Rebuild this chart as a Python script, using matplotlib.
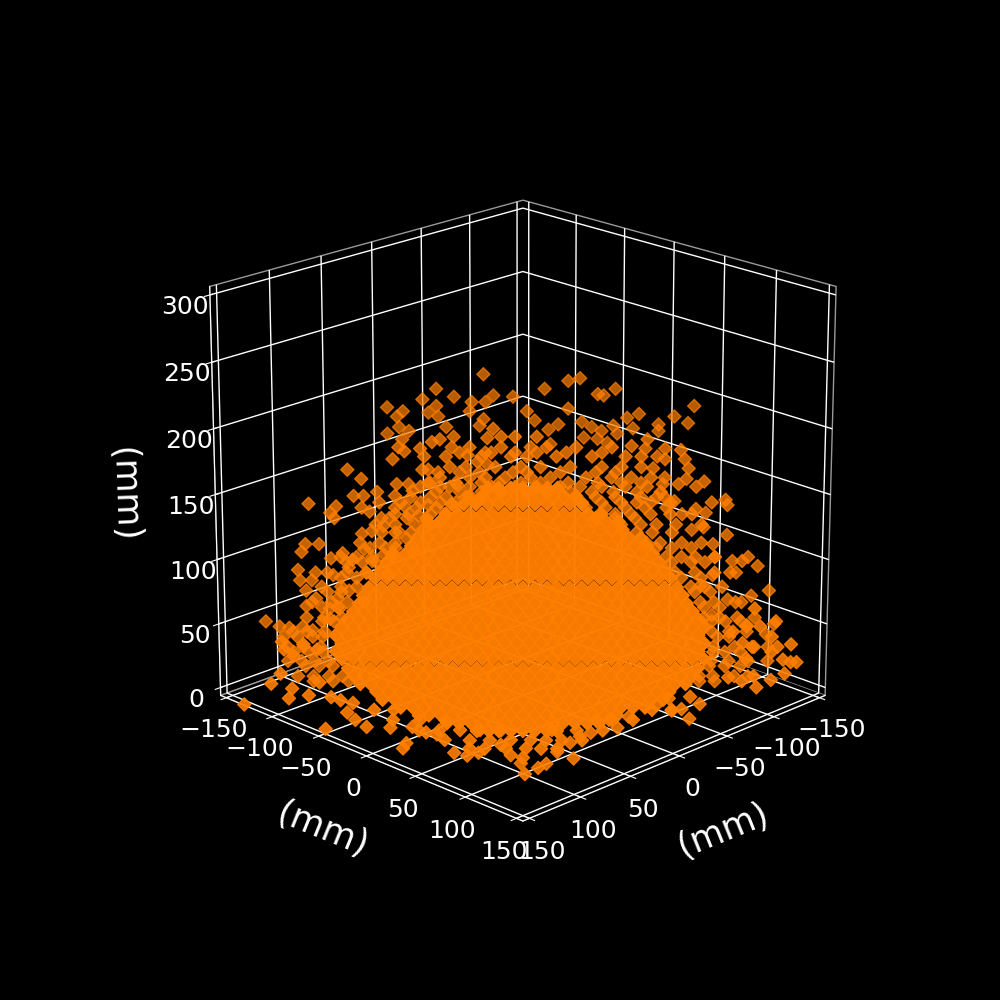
import matplotlib
matplotlib.use("Agg")
import matplotlib.pyplot as plt
from matplotlib.colors import to_rgb

# Upper edge of the cloud, far side (mm)
upper_left_far_x = [5, 29, 20, 0, 36, 54, 29, 11, 4, 46,
                    49, 33, 28, 12, 5, 48, 24, 7, 54, 43]
upper_left_far_y = [-35, -59, -50, -30, -66, -84, -59, -41, -34, -76,
                    -79, -63, -58, -42, -35, -78, -54, -37, -84, -73]
upper_left_far_z = [234, 223, 217, 218, 215, 209, 210, 213, 213, 206,
                    202, 205, 202, 206, 200, 194, 194, 195, 189, 191]

upper_left_x = [15, 61, 46, 42, 35, 18, 63, 52, 36, 60,
                50, 28, 19, 66, 89, 51, 43, 48, 23, 18,
                82, 64, 58, 48, 42, 33, 74, 65, 56, 86,
                81, 73, 109, 95, 98, 96, 82, 78, 60, 48,
                68, 53, 42, 71, 63, 82, 77, 59, 104, 111,
                113, 92, 81, 71, 66, 56, 98, 87, 77, 115,
                106, 97, 114, 108, 89, 80, 69, 111, 106, 95,
                111, 89, 81, 99, 132, 125, 120, 113, 108, 123,
                99, 94]
upper_left_y = [-15, -61, -46, -42, -35, -18, -63, -52, -36, -60,
                -50, -28, -19, -66, -89, -51, -43, -48, -23, -18,
                -82, -64, -58, -48, -42, -33, -74, -65, -56, -86,
                -81, -73, -109, -95, -98, -96, -82, -78, -60, -48,
                -68, -53, -42, -71, -63, -82, -77, -59, -104, -111,
                -113, -92, -81, -71, -66, -56, -98, -87, -77, -115,
                -106, -97, -114, -108, -89, -80, -69, -111, -106, -95,
                -111, -89, -81, -99, -132, -125, -120, -113, -108, -123,
                -99, -94]
upper_left_z = [200, 192, 190, 192, 194, 193, 186, 185, 186, 183,
                179, 180, 182, 177, 169, 169, 167, 169, 175, 173,
                162, 158, 158, 159, 156, 157, 152, 149, 153, 149,
                149, 144, 143, 141, 136, 132, 140, 137, 141, 142,
                132, 134, 129, 126, 121, 120, 122, 116, 112, 112,
                106, 105, 108, 104, 104, 106, 101, 100, 99, 92,
                90, 88, 84, 84, 94, 90, 89, 76, 70, 70,
                64, 76, 67, 62, 52, 48, 47, 48, 45, 40,
                54, 62]

# Lower-left and front rim (mm)
lower_left_x = [124, 123, 118, 113, 106, 125, 130, 105, 130, 144,
                130, 165, 121, 120, 117, 132, 137, 163, 140, 140,
                148, 129, 117, 117, 128, 125, 116, 114, 95, 103,
                119, 100]
lower_left_y = [-124, -123, -118, -113, -106, -125, -130, -105, -107, -95,
                -89, -120, -75, -66, -56, -46, -32, -35, -17, 24,
                29, -4, 6, 20, 60, 70, 72, 28, 73, 91,
                121, 100]
lower_left_z = [36, 30, 25, 34, 30, 11, 3, 4, 6, 6,
                6, 0, 6, 6, 6, 6, 6, 6, 6, 6,
                6, 6, 6, 6, 6, 6, 6, 6, 6, 6,
                6, 6]

lower_right_x = [105, 96, 76, 76, 108, 58, 35, 45, 15, -5,
                 9, -35, -35, -42, -33, -58, -63, -50, -113, -110,
                 -128, -119, -135, -106, -134, -138, -141, -138, -131, -128,
                 -118, -113, -115, -122, -130, -128, -119, -108, -115]
lower_right_y = [120, 119, 126, 110, 106, 105, 103, 102, 110, 102,
                 96, 101, 116, 119, 135, 122, 108, 99, 113, 130,
                 128, 119, 135, 106, 134, 138, 141, 138, 131, 128,
                 118, 113, 115, 122, 130, 128, 119, 108, 115]
lower_right_z = [6, 6, 6, 6, 6, 6, 6, 6, 6, 6,
                 6, 6, 6, 6, 6, 6, 6, 6, 5, 6,
                 6, 9, 11, 8, 22, 20, 20, 34, 32, 28,
                 32, 35, 48, 48, 52, 40, 62, 44, 23]

# Extra points along the front of the cloud (mm)
front_x = [115, 105, -26, -36,
           118, 105, 92, 16, 8, -3,
           118, 108, 97, 87, 77, 51, 39, 26,
           117, 105, 95, 84, 74, 67, 59, 49,
           115, 108, 97, 87, 80, 72]
front_y = [-36, -26, 105, 115,
           -13, 1, 14, 90, 98, 108,
           14, 24, 34, 44, 55, 80, 93, 106,
           39, 52, 62, 72, 82, 90, 98, 108,
           62, 70, 80, 90, 98, 106]
front_z = [6, 6, 6, 6,
           6, 6, 6, 6, 6, 6,
           6, 6, 6, 6, 6, 6, 6, 6,
           6, 6, 6, 6, 6, 6, 6, 6,
           6, 6, 6, 6, 6, 6]

upper_right_far_x = [-10, -38, -44, -26, -62, -53, -56, -102, -38, -92,
                     -74, -68, -99, -84, -84, -71, -29, -33, -28, -17,
                     -21, -45, -50, -55, -61, -46, -53, -58, -63]
upper_right_far_y = [-20, 8, 14, -4, 32, 23, 26, 72, 8, 62,
                     44, 38, 69, 54, 54, 41, -1, 3, -2, -13,
                     -9, 15, 20, 25, 31, 16, 23, 28, 33]
upper_right_far_z = [217, 229, 231, 223, 223, 219, 218, 210, 208, 202,
                     204, 201, 197, 196, 191, 193, 181, 196, 192, 206,
                     199, 198, 194, 191, 195, 186, 185, 182, 189]

upper_right_x = [-55, -63, -62, -72, -80, -82, -72, -68, -66, -84,
                 -72, -83, -79, -92, -88, -71, -103, -96, -88, -93,
                 -104, -72, -77, -81, -86, -92, -104, -97, -98, -107,
                 -115, -112, -120, -109, -97, -126, -117, -129, -112, -105,
                 -125, -115, -91, -97]
upper_right_y = [55, 63, 62, 72, 80, 82, 72, 68, 66, 84,
                 72, 83, 79, 92, 88, 71, 103, 96, 88, 93,
                 104, 72, 77, 81, 86, 92, 104, 97, 98, 107,
                 115, 112, 120, 109, 97, 126, 117, 129, 112, 105,
                 125, 115, 91, 97]
upper_right_z = [187, 192, 185, 185, 184, 177, 177, 179, 170, 170,
                 163, 162, 158, 160, 156, 158, 146, 144, 139, 136,
                 142, 148, 145, 135, 123, 125, 119, 112, 102, 99,
                 102, 99, 95, 90, 88, 76, 72, 50, 67, 69,
                 42, 49, 80, 57]

# Thinner band between the rim and the solid centre (mm)
band_x = [27, 11, -4, -12, -27, -45,
          39, 21, 6, -2, -17, -35, -52, -60,
          37, 29, 14, 1, -9, -24, -40, -50, -60,
          42, 27, 19, 9, -4, -14, -32, -45, -55, -65,
          52, 37, 27, 16, 4, -7, -19, -29, -40, -52, -63,
          57, 47, 39, 29, 21, -27, -37, -47, -60, -68,
          65, 54, 44, 34, -32, -42, -52, -62, -73,
          72, 59, 49, -37, -47, -57,
          72, 65, 57, -58, -66, -76,
          78, 70, 65, -68, -76, -86,
          90, 82, 75, -76, -86, -93,
          93, 85, -81, -91,
          100, 93, -88, -96,
          103, 95, -93, -101,
          103, 97, -97, -104, -112,
          116, 108, 103, -100, -106,
          118, 110, 103, -98, -104, -112,
          112, 105, 98, -96, -104, -112,
          108, 98, 90, -91, -99]
band_y = [-27, -11, 4, 12, 27, 45,
          -39, -21, -6, 2, 17, 35, 52, 60,
          -37, -29, -14, -1, 9, 24, 40, 50, 60,
          -42, -27, -19, -9, 4, 14, 32, 45, 55, 65,
          -52, -37, -27, -16, -4, 7, 19, 29, 40, 52, 63,
          -57, -47, -39, -29, -21, 27, 37, 47, 60, 68,
          -65, -54, -44, -34, 32, 42, 52, 62, 73,
          -72, -59, -49, 37, 47, 57,
          -72, -65, -57, 58, 66, 76,
          -78, -70, -65, 68, 76, 86,
          -90, -82, -75, 76, 86, 93,
          -93, -85, 81, 91,
          -100, -93, 88, 96,
          -103, -95, 93, 101,
          -103, -97, 97, 104, 112,
          -116, -108, -103, 100, 106,
          -118, -110, -103, 98, 104, 112,
          -112, -105, -98, 96, 104, 112,
          -108, -98, -90, 91, 99]
band_z = [186, 186, 186, 186, 186, 186,
          179, 179, 179, 179, 179, 179, 179, 179,
          171, 171, 171, 171, 171, 171, 171, 171, 171,
          163, 163, 163, 163, 163, 163, 163, 163, 163, 163,
          156, 156, 156, 156, 156, 156, 156, 156, 156, 156, 156,
          148, 148, 148, 148, 148, 148, 148, 148, 148, 148,
          140, 140, 140, 140, 140, 140, 140, 140, 140,
          132, 132, 132, 132, 132, 132,
          121, 121, 121, 121, 121, 121,
          109, 109, 109, 109, 109, 109,
          98, 98, 98, 98, 98, 98,
          86, 86, 86, 86,
          75, 75, 75, 75,
          63, 63, 63, 63,
          52, 52, 52, 52, 52,
          40, 40, 40, 40, 40,
          28, 28, 28, 28, 28, 28,
          17, 17, 17, 17, 17, 17,
          5, 5, 5, 5, 5]

band2_x = [11, 4, -7,
           32, 16, 4, -7, -22, -40,
           32, 22, 5, -2, -19, -37, -47,
           47, 34, 21, 12, 1, -9, -23, -38, -50, -60,
           44, 32, 21, 11, -2, -12, -24, -35, -46, -58, -70,
           62, 52, 42, 34, 24, -30, -40, -50, -58, -65, -75,
           65, 58, 47, 39, -40, -47, -55, -65, -75, -86,
           75, 65, 55, 47, -50, -60, -68, -78, -91,
           83, 73, 65, -63, -70, -81, -91,
           93, 85, 77, 67, -73, -81, -88, -98,
           100, 90, 80, -78, -88, -98, -106,
           103, 93, 85, -86, -93, -102,
           108, 98, 90, -91, -98, -109,
           111, 102, 93, -93, -101, -110, -119,
           118, 111, 102, -97, -106, -115,
           121, 113, 104, -98, -109, -119, -126,
           121, 114, 107, 100, -97, -106, -116, -126,
           116, 108, 100, 93, -91, -98, -109, -116]
band2_y = [-11, -4, 7,
           -32, -16, -4, 7, 22, 40,
           -32, -22, -5, 2, 19, 37, 47,
           -47, -34, -21, -12, -1, 9, 23, 38, 50, 60,
           -44, -32, -21, -11, 2, 12, 24, 35, 46, 58, 70,
           -62, -52, -42, -34, -24, 30, 40, 50, 58, 65, 75,
           -65, -58, -47, -39, 40, 47, 55, 65, 75, 86,
           -75, -65, -55, -47, 50, 60, 68, 78, 91,
           -83, -73, -65, 63, 70, 81, 91,
           -93, -85, -77, -67, 73, 81, 88, 98,
           -100, -90, -80, 78, 88, 98, 106,
           -103, -93, -85, 86, 93, 102,
           -108, -98, -90, 91, 98, 109,
           -111, -102, -93, 93, 101, 110, 119,
           -118, -111, -102, 97, 106, 115,
           -121, -113, -104, 98, 109, 119, 126,
           -121, -114, -107, -100, 97, 106, 116, 126,
           -116, -108, -100, -93, 91, 98, 109, 116]
band2_z = [194, 194, 194,
           182, 182, 182, 182, 182, 182,
           167, 167, 167, 167, 167, 167, 167,
           159, 159, 159, 159, 159, 159, 159, 159, 159, 159,
           152, 152, 152, 152, 152, 152, 152, 152, 152, 152, 152,
           144, 144, 144, 144, 144, 144, 144, 144, 144, 144, 144,
           135, 135, 135, 135, 135, 135, 135, 135, 135, 135,
           127, 127, 127, 127, 127, 127, 127, 127, 127,
           113, 113, 113, 113, 113, 113, 113,
           102, 102, 102, 102, 102, 102, 102, 102,
           90, 90, 90, 90, 90, 90, 90,
           79, 79, 79, 79, 79, 79,
           67, 67, 67, 67, 67, 67,
           55, 55, 55, 55, 55, 55, 55,
           44, 44, 44, 44, 44, 44,
           32, 32, 32, 32, 32, 32, 32,
           21, 21, 21, 21, 21, 21, 21, 21,
           9, 9, 9, 9, 9, 9, 9, 9]

# Dense centre, one row per height level (mm)
centre_z_levels = [191, 185, 179, 172, 166, 160, 154, 148, 142, 136, 130,
                   124, 117, 111, 105, 99, 93, 87, 81, 75, 69, 63,
                   56, 50, 44, 38, 32, 26, 20, 14, 8]
centre_x_rows = [
    [87, 82, 76, 70, 64, 58, 53],
    [96, 90, 85, 79, 73, 67, 61, 55, 50, 44],
    [105, 99, 93, 87, 82, 76, 70, 64, 58, 53, 47, 41],
    [108, 102, 96, 90, 85, 79, 73, 67, 61, 55, 50, 44, 38, 32],
    [117, 111, 105, 99, 93, 87, 82, 76, 70, 64, 58, 53, 47, 41, 35, 29, 23],
    [119, 114, 108, 102, 96, 90, 85, 79, 73, 67, 61, 55, 50, 44, 38, 32, 26, 21],
    [122, 117, 111, 105, 99, 93, 87, 82, 76, 70, 64, 58, 53, 47, 41, 35, 29, 23, 18, 12],
    [125, 119, 114, 108, 102, 96, 90, 85, 79, 73, 67, 61, 55, 50, 44, 38, 32, 26, 21, 15, 9],
    [134, 128, 122, 117, 111, 105, 99, 93, 87, 82, 76, 70, 64, 58, 53, 47, 41, 35, 29, 23, 18, 12, 6],
    [137, 131, 125, 119, 114, 108, 102, 96, 90, 85, 79, 73, 67, 61, 55, 50, 44, 38, 32, 26, 21, 15, 9, 3],
    [140, 134, 128, 122, 117, 111, 105, 99, 93, 87, 82, 76, 70, 64, 58, 53, 47, 41, 35, 29, 23, 18, 12, 6, 0],
    [143, 137, 131, 125, 119, 114, 108, 102, 96, 90, 85, 79, 73, 67, 61, 55, 50, 44, 38, 32, 26, 21, 15, 9, 3, -3],
    [146, 140, 134, 128, 122, 117, 111, 105, 99, 93, 87, 82, 76, 70, 64, 58, 53, 47, 41, 35, 29, 23, 18, 12, 6, 0, -6],
    [149, 143, 137, 131, 125, 119, 114, 108, 102, 96, 90, 85, 79, 73, 67, 61, 55, 50, 44, 38, 32, 26, 21, 15, 9, 3, -3, -9],
    [151, 146, 140, 134, 128, 122, 117, 111, 105, 99, 93, 87, 82, 76, 70, 64, 58, 53, 47, 41, 35, 29, 23, 18, 12, 6, 0, -6, -11],
    [154, 149, 143, 137, 131, 125, 119, 114, 108, 102, 96, 90, 85, 79, 73, 67, 61, 55, 50, 44, 38, 32, 26, 21, 15, 9, 3, -3, -9, -14],
    [157, 151, 146, 140, 134, 128, 122, 117, 111, 105, 99, 93, 87, 82, 76, 70, 64, 58, 53, 47, 41, 35, 29, 23, 18, 12, 6, 0, -6, -11, -17],
    [160, 154, 149, 143, 137, 131, 125, 119, 114, 108, 102, 96, 90, 85, 79, 73, 67, 61, 55, 50, 44, 38, 32, 26, 21, 15, 9, 3, -3, -9, -14, -20],
    [163, 157, 151, 146, 140, 134, 128, 122, 117, 111, 105, 99, 93, 87, 82, 76, 70, 64, 58, 53, 47, 41, 35, 29, 23, 18, 12, 6, 0, -6, -11, -17],
    [160, 154, 149, 143, 137, 131, 125, 119, 114, 108, 102, 96, 90, 85, 79, 73, 67, 61, 55, 50, 44, 38, 32, 26, 21, 15, 9, 3, -3, -9, -14, -20],
    [163, 157, 151, 146, 140, 134, 128, 122, 117, 111, 105, 99, 93, 87, 82, 76, 70, 64, 58, 53, 47, 41, 35, 29, 23, 18, 12, 6, 0, -6, -11, -17],
    [160, 154, 149, 143, 137, 131, 125, 119, 114, 108, 102, 96, 90, 85, 79, 73, 67, 61, 55, 50, 44, 38, 32, 26, 21, 15, 9, 3, -3, -9, -14, -20],
    [157, 151, 146, 140, 134, 128, 122, 117, 111, 105, 99, 93, 87, 82, 76, 70, 64, 58, 53, 47, 41, 35, 29, 23, 18, 12, 6, 0, -6, -11, -17],
    [154, 149, 143, 137, 131, 125, 119, 114, 108, 102, 96, 90, 85, 79, 73, 67, 61, 55, 50, 44, 38, 32, 26, 21, 15, 9, 3, -3, -9, -14],
    [151, 146, 140, 134, 128, 122, 117, 111, 105, 99, 93, 87, 82, 76, 70, 64, 58, 53, 47, 41, 35, 29, 23, 18, 12, 6, 0, -6, -11],
    [143, 137, 131, 125, 119, 114, 108, 102, 96, 90, 85, 79, 73, 67, 61, 55, 50, 44, 38, 32, 26, 21, 15, 9, 3, -3],
    [140, 134, 128, 122, 117, 111, 105, 99, 93, 87, 82, 76, 70, 64, 58, 53, 47, 41, 35, 29, 23, 18, 12, 6, 0],
    [131, 125, 119, 114, 108, 102, 96, 90, 85, 79, 73, 67, 61, 55, 50, 44, 38, 32, 26, 21, 15, 9],
    [122, 117, 111, 105, 99, 93, 87, 82, 76, 70, 64, 58, 53, 47, 41, 35, 29, 23],
    [108, 102, 96, 90, 85, 79, 73, 67, 61, 55, 50, 44, 38, 32],
    [93, 87, 82, 76, 70, 64, 58, 53],
]
centre_y_rows = [
    [53, 58, 64, 70, 76, 82, 87],
    [44, 50, 55, 61, 67, 73, 79, 85, 90, 96],
    [35, 41, 47, 53, 58, 64, 70, 76, 82, 87, 93, 99],
    [32, 38, 44, 50, 55, 61, 67, 73, 79, 85, 90, 96, 102, 108],
    [23, 29, 35, 41, 47, 53, 58, 64, 70, 76, 82, 87, 93, 99, 105, 111, 117],
    [21, 26, 32, 38, 44, 50, 55, 61, 67, 73, 79, 85, 90, 96, 102, 108, 114, 119],
    [18, 23, 29, 35, 41, 47, 53, 58, 64, 70, 76, 82, 87, 93, 99, 105, 111, 117, 122, 128],
    [15, 21, 26, 32, 38, 44, 50, 55, 61, 67, 73, 79, 85, 90, 96, 102, 108, 114, 119, 125, 131],
    [6, 12, 18, 23, 29, 35, 41, 47, 53, 58, 64, 70, 76, 82, 87, 93, 99, 105, 111, 117, 122, 128, 134],
    [3, 9, 15, 21, 26, 32, 38, 44, 50, 55, 61, 67, 73, 79, 85, 90, 96, 102, 108, 114, 119, 125, 131, 137],
    [0, 6, 12, 18, 23, 29, 35, 41, 47, 53, 58, 64, 70, 76, 82, 87, 93, 99, 105, 111, 117, 122, 128, 134, 140],
    [-3, 3, 9, 15, 21, 26, 32, 38, 44, 50, 55, 61, 67, 73, 79, 85, 90, 96, 102, 108, 114, 119, 125, 131, 137, 143],
    [-6, 0, 6, 12, 18, 23, 29, 35, 41, 47, 53, 58, 64, 70, 76, 82, 87, 93, 99, 105, 111, 117, 122, 128, 134, 140, 146],
    [-9, -3, 3, 9, 15, 21, 26, 32, 38, 44, 50, 55, 61, 67, 73, 79, 85, 90, 96, 102, 108, 114, 119, 125, 131, 137, 143, 149],
    [-11, -6, 0, 6, 12, 18, 23, 29, 35, 41, 47, 53, 58, 64, 70, 76, 82, 87, 93, 99, 105, 111, 117, 122, 128, 134, 140, 146, 151],
    [-14, -9, -3, 3, 9, 15, 21, 26, 32, 38, 44, 50, 55, 61, 67, 73, 79, 85, 90, 96, 102, 108, 114, 119, 125, 131, 137, 143, 149, 154],
    [-17, -11, -6, 0, 6, 12, 18, 23, 29, 35, 41, 47, 53, 58, 64, 70, 76, 82, 87, 93, 99, 105, 111, 117, 122, 128, 134, 140, 146, 151, 157],
    [-20, -14, -9, -3, 3, 9, 15, 21, 26, 32, 38, 44, 50, 55, 61, 67, 73, 79, 85, 90, 96, 102, 108, 114, 119, 125, 131, 137, 143, 149, 154, 160],
    [-23, -17, -11, -6, 0, 6, 12, 18, 23, 29, 35, 41, 47, 53, 58, 64, 70, 76, 82, 87, 93, 99, 105, 111, 117, 122, 128, 134, 140, 146, 151, 157],
    [-20, -14, -9, -3, 3, 9, 15, 21, 26, 32, 38, 44, 50, 55, 61, 67, 73, 79, 85, 90, 96, 102, 108, 114, 119, 125, 131, 137, 143, 149, 154, 160],
    [-23, -17, -11, -6, 0, 6, 12, 18, 23, 29, 35, 41, 47, 53, 58, 64, 70, 76, 82, 87, 93, 99, 105, 111, 117, 122, 128, 134, 140, 146, 151, 157],
    [-20, -14, -9, -3, 3, 9, 15, 21, 26, 32, 38, 44, 50, 55, 61, 67, 73, 79, 85, 90, 96, 102, 108, 114, 119, 125, 131, 137, 143, 149, 154, 160],
    [-17, -11, -6, 0, 6, 12, 18, 23, 29, 35, 41, 47, 53, 58, 64, 70, 76, 82, 87, 93, 99, 105, 111, 117, 122, 128, 134, 140, 146, 151, 157],
    [-14, -9, -3, 3, 9, 15, 21, 26, 32, 38, 44, 50, 55, 61, 67, 73, 79, 85, 90, 96, 102, 108, 114, 119, 125, 131, 137, 143, 149, 154],
    [-11, -6, 0, 6, 12, 18, 23, 29, 35, 41, 47, 53, 58, 64, 70, 76, 82, 87, 93, 99, 105, 111, 117, 122, 128, 134, 140, 146, 151],
    [-3, 3, 9, 15, 21, 26, 32, 38, 44, 50, 55, 61, 67, 73, 79, 85, 90, 96, 102, 108, 114, 119, 125, 131, 137, 143],
    [0, 6, 12, 18, 23, 29, 35, 41, 47, 53, 58, 64, 70, 76, 82, 87, 93, 99, 105, 111, 117, 122, 128, 134, 140],
    [9, 15, 21, 26, 32, 38, 44, 50, 55, 61, 67, 73, 79, 85, 90, 96, 102, 108, 114, 119, 125, 131],
    [18, 23, 29, 35, 41, 47, 53, 58, 64, 70, 76, 82, 87, 93, 99, 105, 111, 117],
    [32, 38, 44, 50, 55, 61, 67, 73, 79, 85, 90, 96, 102, 108],
    [47, 53, 58, 64, 70, 76, 82, 87],
]

tick_mm = [-150, -100, -50, 0, 50, 100, 150]
z_tick_mm = [0, 50, 100, 150, 200, 250, 300]
point_rgb = to_rgb("#ff7f00")

xs, ys, zs, colors = [], [], [], []


def add_group(gx, gy, gz, opacity):
    n = min(len(gx), len(gy), len(gz))
    xs.extend(gx[:n])
    ys.extend(gy[:n])
    zs.extend(gz[:n])
    colors.extend([(*point_rgb, opacity)] * n)


add_group(upper_left_far_x, upper_left_far_y, upper_left_far_z, 0.72)
add_group(upper_left_x, upper_left_y, upper_left_z, 0.78)
add_group(lower_left_x, lower_left_y, lower_left_z, 0.9)
add_group(lower_right_x, lower_right_y, lower_right_z, 0.88)
add_group(front_x, front_y, front_z, 0.92)
add_group(upper_right_far_x, upper_right_far_y, upper_right_far_z, 0.72)
add_group(upper_right_x, upper_right_y, upper_right_z, 0.78)
add_group(band_x, band_y, band_z, 0.8)
add_group(band2_x, band2_y, band2_z, 0.8)
for row_x, row_y, level in zip(centre_x_rows, centre_y_rows, centre_z_levels):
    add_group(row_x, row_y, [level] * len(row_x), 0.97)

plt.style.use("dark_background")
fig = plt.figure(figsize=(10, 10), dpi=100)
ax = fig.add_subplot(projection="3d")
ax.scatter(xs, ys, zs, marker="D", s=45, c=colors, depthshade=False)
ax.view_init(elev=20, azim=45)
ax.set_box_aspect((1, 1, 1), zoom=0.95)
ax.set_xlim(-150, 150, view_margin=1/48)
ax.set_ylim(-150, 150, view_margin=1/48)
ax.set_zlim(0, 300, view_margin=1/48)
ax.set_xticks(tick_mm)
ax.set_yticks(tick_mm)
ax.set_zticks(z_tick_mm)
ax.tick_params(labelsize=18)
ax.xaxis.set_rotate_label(False)
ax.yaxis.set_rotate_label(False)
ax.zaxis.set_rotate_label(False)
ax.set_xlabel("(mm)", fontsize=25, labelpad=19, rotation=22)
ax.set_ylabel("(mm)", fontsize=25, labelpad=19, rotation=-22)
ax.set_zlabel("(mm)", fontsize=25, labelpad=22, rotation=-88)
for a in (ax.xaxis, ax.yaxis, ax.zaxis):
    a.set_pane_color((0, 0, 0, 1))
    a.pane.set_edgecolor("#999999")
    a._axinfo["grid"]["linewidth"] = 1.0
fig.savefig("out.png", dpi=100, facecolor="black")
